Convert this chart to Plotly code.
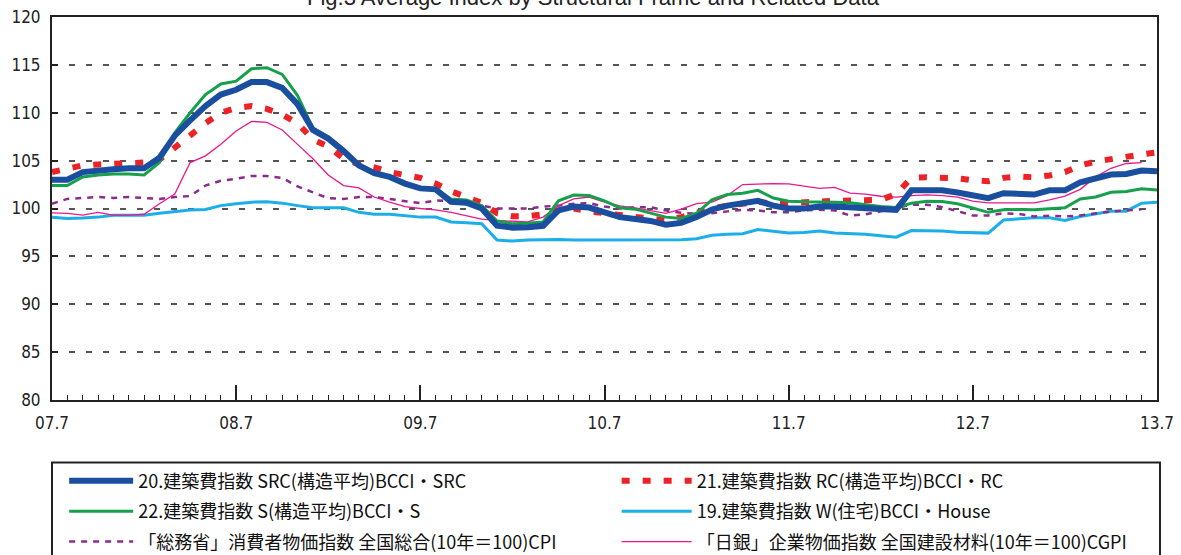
import plotly.graph_objects as go
import pandas as pd

# ---- categories (monthly, 2007-07 .. 2013-07) ----
months = [p.strftime("%Y-%m") for p in pd.period_range("2007-07", "2013-07", freq="M")]
year_ticks = ["2007-07", "2008-07", "2009-07", "2010-07", "2011-07", "2012-07", "2013-07"]
year_labels = ["07.7", "08.7", "09.7", "10.7", "11.7", "12.7", "13.7"]

# ---- series values ----
src = [103.0, 103.0, 103.8, 104.0, 104.1, 104.2, 104.2, 105.3, 107.6, 109.2, 110.7, 111.9, 112.4,
       113.2, 113.2, 112.6, 110.9, 108.2, 107.3, 106.0, 104.5, 103.7, 103.3, 102.6, 102.1,
       102.0, 100.7, 100.6, 100.0, 98.2, 98.0, 98.05, 98.2, 99.8, 100.2, 100.1, 99.6,
       99.1, 98.9, 98.7, 98.3, 98.5, 99.1, 99.9, 100.3, 100.5, 100.8, 100.3, 100.0,
       100.0, 100.2, 100.2, 100.1, 100.0, 99.95, 99.86, 101.9, 101.94, 101.9, 101.67, 101.35,
       101.08, 101.6, 101.6, 101.46, 101.9, 101.9, 102.74, 103.1, 103.54, 103.6, 103.96, 103.9]

rc = [103.8, 104.2, 104.5, 104.6, 104.7, 104.7, 104.8, 105.1, 106.4, 107.6, 108.9, 110.0, 110.5,
      110.7, 110.4, 109.8, 108.9, 107.2, 106.5, 105.2, 104.6, 104.3, 103.8, 103.5, 103.2,
      102.6, 101.8, 101.2, 100.6, 99.5, 99.2, 99.2, 99.4, 99.8, 100.0, 99.7, 99.5,
      99.3, 99.0, 98.8, 98.75, 99.1, 99.6, 100.0, 100.3, 100.5, 100.7, 100.5, 100.6,
      100.7, 100.75, 100.8, 100.83, 100.83, 100.9, 101.5, 103.2, 103.26, 103.26, 103.15, 102.95,
      102.85, 103.2, 103.35, 103.26, 103.45, 103.8, 104.5, 104.9, 105.2, 105.4, 105.65, 105.85]

s = [102.4, 102.4, 103.3, 103.5, 103.6, 103.6, 103.5, 104.8, 107.9, 110.0, 111.9, 113.0, 113.3,
     114.6, 114.7, 114.0, 111.8, 108.4, 107.5, 106.2, 104.6, 103.8, 103.4, 102.6, 102.1,
     102.1, 101.0, 100.9, 100.3, 98.7, 98.4, 98.45, 98.6, 100.8, 101.4, 101.35, 100.8,
     100.07, 99.93, 99.5, 99.1, 98.96, 99.5, 100.9, 101.46, 101.6, 101.9, 101.1, 100.76,
     100.7, 100.7, 100.66, 100.6, 100.4, 100.2, 100.1, 100.55, 100.76, 100.73, 100.5, 100.07,
     99.6, 99.86, 99.9, 99.86, 99.97, 100.07, 101.0, 101.2, 101.7, 101.77, 102.05, 101.94]

w_house = [99.1, 98.95, 99.0, 99.1, 99.3, 99.3, 99.3, 99.5, 99.7, 99.85, 99.9, 100.3, 100.5,
           100.66, 100.7, 100.56, 100.3, 100.07, 100.07, 100.07, 99.6, 99.4, 99.4, 99.27, 99.1,
           99.1, 98.6, 98.5, 98.4, 96.7, 96.6, 96.7, 96.75, 96.75, 96.7, 96.7, 96.74,
           96.7, 96.67, 96.74, 96.74, 96.74, 96.84, 97.2, 97.3, 97.36, 97.8, 97.6, 97.43,
           97.5, 97.64, 97.43, 97.36, 97.3, 97.15, 97.0, 97.7, 97.7, 97.64, 97.53, 97.46,
           97.43, 98.8, 98.9, 99.03, 99.03, 98.75, 99.17, 99.44, 99.7, 99.72, 100.56, 100.66]

cpi = [100.5, 101.0, 101.1, 101.2, 101.1, 101.2, 101.1, 101.0, 101.2, 101.3, 102.4, 102.9, 103.1,
       103.4, 103.4, 103.2, 102.3, 101.7, 101.07, 101.0, 101.2, 101.2, 101.0, 100.77, 100.56,
       100.83, 100.77, 100.5, 100.3, 100.0, 100.0, 100.0, 100.2, 100.3, 100.5, 100.56, 100.2,
       100.0, 100.14, 100.14, 99.8, 99.55, 99.45, 99.5, 99.7, 99.86, 99.8, 99.6, 99.6,
       99.8, 99.86, 99.8, 99.27, 99.4, 99.7, 100.07, 100.4, 100.4, 100.14, 99.72, 99.27,
       99.27, 99.5, 99.44, 99.17, 99.24, 99.17, 99.27, 99.5, 99.7, 99.8, 99.93]

cgpi = [99.55, 99.5, 99.3, 99.6, 99.3, 99.3, 99.4, 100.5, 101.5, 104.8, 105.5, 106.7, 108.1,
        109.1, 109.0, 108.2, 106.7, 105.2, 103.5, 102.4, 102.15, 101.2, 100.66, 100.2, 100.0,
        99.86, 99.6, 99.27, 98.9, 98.75, 98.7, 98.6, 99.1, 100.3, 101.0, 101.2, 100.66,
        100.28, 100.07, 99.8, 99.5, 99.93, 100.5, 100.66, 101.35, 102.5, 102.57, 102.6, 102.57,
        102.36, 102.1, 102.2, 101.6, 101.5, 101.28, 101.18, 101.35, 101.42, 101.35, 101.18, 100.76,
        100.59, 100.59, 100.59, 100.59, 100.9, 101.3, 102.0, 103.3, 104.2, 104.7, 104.8]

names = {
    "src": "20.建築費指数 SRC(構造平均)BCCI・SRC",
    "rc": "21.建築費指数 RC(構造平均)BCCI・RC",
    "s": "22.建築費指数 S(構造平均)BCCI・S",
    "w": "19.建築費指数 W(住宅)BCCI・House",
    "cpi": "「総務省」消費者物価指数 全国総合(10年＝100)CPI",
    "cgpi": "「日銀」企業物価指数 全国建設材料(10年＝100)CGPI",
}

idx = {m: i for i, m in enumerate(months)}
x_all = [idx[m] for m in months]

fig = go.Figure()

def add(key, vals, color, width, dash, legend, rank):
    fig.add_trace(go.Scatter(
        x=x_all[:len(vals)], y=vals, mode="lines", name=names[key],
        line=dict(color=color, width=width, dash=dash),
        legend=legend, legendrank=rank, legendgroup=key, hoverinfo="skip"))

add("w", w_house, "#1BAEE8", 3, "solid", "legend2", 2)
add("cpi", cpi, "#8C2B8E", 2.5, "6px,6px", "legend", 3)
add("cgpi", cgpi, "#E8198B", 1.3, "solid", "legend2", 3)
add("rc", rc, "#EC2227", 6, "8px,13px", "legend2", 1)
add("s", s, "#17A04B", 3, "solid", "legend", 2)
add("src", src, "#1A4E9E", 6, "solid", "legend", 1)

leg_font = dict(family="Noto Sans CJK JP", size=18, color="#111")
common_leg = dict(orientation="v", yanchor="top", xanchor="left", y=-0.1635,
                  font=leg_font, tracegroupgap=4,
                  bgcolor="rgba(0,0,0,0)", borderwidth=0)

tick_font = dict(family="DejaVu Sans Condensed, Liberation Sans Narrow, sans-serif", size=17, color="#222")

fig.update_layout(
    width=1181, height=555,
    margin=dict(l=52, r=24, t=17, b=155, autoexpand=False),
    paper_bgcolor="white", plot_bgcolor="white",
    showlegend=True,
    legend=dict(x=0.011, itemwidth=64, **common_leg),
    legend2=dict(x=0.511, itemwidth=70, **common_leg),
    xaxis=dict(
        range=[0, len(months) - 1],
        tickmode="array", tickvals=[idx[m] for m in year_ticks], ticktext=year_labels,
        ticks="inside", ticklen=15, tickwidth=1.5, tickcolor="#222",
        minor=dict(tickmode="linear", tick0=0, dtick=1, ticks="inside", ticklen=5,
                   tickwidth=1.2, tickcolor="#222", showgrid=False),
        showgrid=False, zeroline=False,
        showline=True, linecolor="#222", linewidth=2, mirror=True,
        tickfont=tick_font, ticklabelstandoff=7,
    ),
    yaxis=dict(
        range=[80, 120], tickmode="linear", tick0=80, dtick=5,
        ticks="inside", ticklen=6, tickwidth=2, tickcolor="#222",
        showgrid=True, gridcolor="#555", gridwidth=1.5, griddash="6px,11px",
        zeroline=False,
        showline=True, linecolor="#222", linewidth=2, mirror=True,
        tickfont=tick_font, ticklabelstandoff=6,
    ),
    shapes=[dict(type="rect", xref="paper", yref="paper",
                 x0=0.0, x1=1.0027, y0=-0.163, y1=-0.43,
                 line=dict(color="#222", width=2), fillcolor="rgba(0,0,0,0)", layer="above")],
    annotations=[dict(text="Fig.3 Average Index by Structural Frame and Related Data",
                      xref="paper", yref="paper", x=0.4896, y=1.0135,
                      xanchor="center", yanchor="bottom", showarrow=False,
                      font=dict(family="Liberation Sans, Arial, sans-serif", size=22, color="#222"))],
)

fig.write_html("out.html", config={"displayModeBar": False},
               post_script="document.body.style.margin='0';document.body.style.overflow='hidden';")
